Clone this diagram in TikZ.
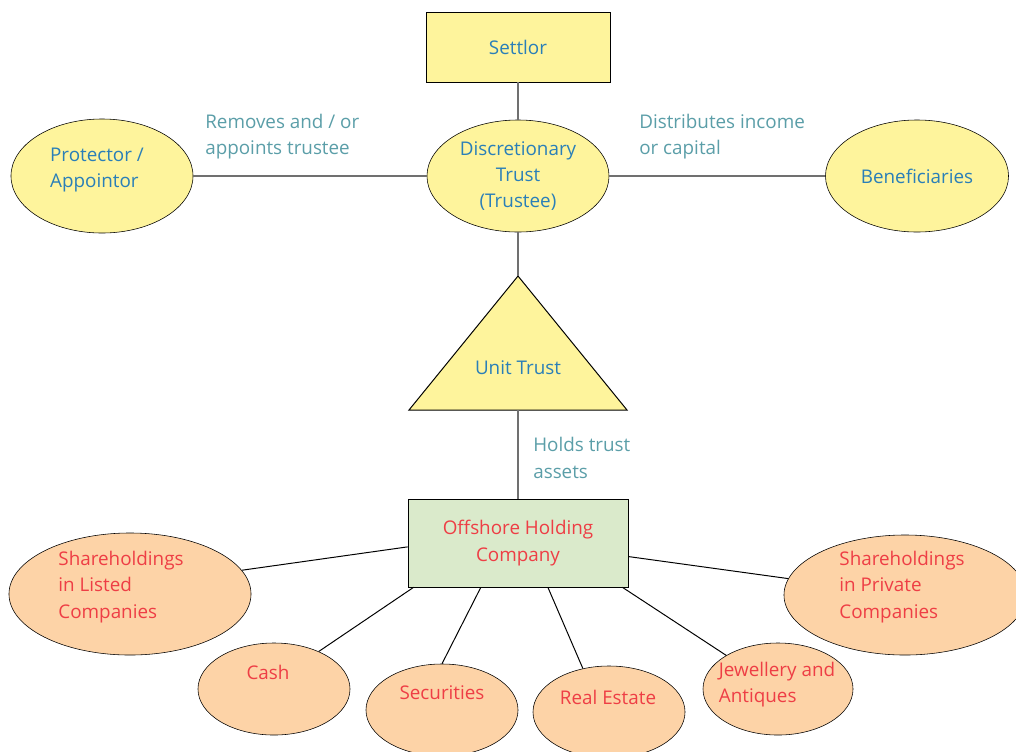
\documentclass[tikz,border=0pt]{standalone}
\usepackage{fontspec}
\setmainfont{Open Sans}
\usetikzlibrary{shapes.geometric}

\definecolor{trustyellow}{HTML}{FEF49C}
\definecolor{assetpeach}{HTML}{FDD3A7}
\definecolor{companygreen}{HTML}{DAEACB}
\definecolor{namblue}{HTML}{2A7FB8}
\definecolor{linkteal}{HTML}{5B9EA8}
\definecolor{assetred}{HTML}{EE3E45}
\definecolor{linkgray}{HTML}{707070}

\tikzset{
  lbl/.style={font=\fontsize{13.4}{18.6}\selectfont, inner sep=0pt},
  party/.style={lbl, draw, fill=trustyellow, text=namblue, align=center},
  asset/.style={draw, fill=assetpeach, ellipse, inner sep=0pt},
  assettxt/.style={lbl, text=assetred, align=left},
  linktxt/.style={lbl, text=linkteal, align=left, anchor=west},
  upper/.style={draw=linkgray, line width=0.9pt},
  lower/.style={draw=black, line width=0.7pt}
}

\begin{document}
\begin{tikzpicture}[x=0.025cm, y=-0.025cm]
    \useasboundingbox (0,0) rectangle (1016,751);

    % top part
    \node[party, minimum width=4.6cm, minimum height=1.75cm] (settlor) at (518,47) {Settlor};
    \node[party, ellipse, minimum width=4.55cm, minimum height=2.8cm] (trust) at (518,176)
        {Discretionary\\Trust\\(Trustee)};
    \node[party, ellipse, align=left, minimum width=4.55cm, minimum height=2.85cm] (protector)
        at (102,176) {};
    \node[lbl, text=namblue, align=left] (protxt) at (97,170) {Protector /\\Appointor};
    \node[party, ellipse, minimum width=4.575cm, minimum height=2.8cm] (benef) at (917,176)
        {Beneficiaries};

    \node[linktxt] (removes) at (205,137) {Removes and / or\\appoints trustee};
    \node[linktxt] (distrib) at (639,137) {Distributes income\\or capital};

    % unit trust
    \coordinate (apex) at (518,276);
    \coordinate (baser) at (627,410);
    \coordinate (basel) at (409,410);
    \coordinate (basemid) at (518,410);
    \draw[fill=trustyellow, line width=0.7pt] (apex) -- (baser) -- (basel) -- cycle;
    \node[lbl, text=namblue] (unit) at (518,368) {Unit Trust};

    \node[linktxt] (holds) at (533,458) {Holds trust\\assets};

    % holding company and assets
    \node[lbl, draw, fill=companygreen, text=assetred, align=center,
        minimum width=5.5cm, minimum height=2.2cm] (off) at (518,543)
        {Offshore Holding\\Company};

    \node[asset, minimum width=6.05cm, minimum height=3.05cm] (listed) at (130,594) {};
    \node[asset, minimum width=6.05cm, minimum height=3cm] (priv) at (905,595) {};
    \node[asset, minimum width=3.8cm, minimum height=2.3cm] (cash) at (274,689) {};
    \node[asset, minimum width=3.8cm, minimum height=2.3cm] (secur) at (442,710) {};
    \node[asset, minimum width=3.8cm, minimum height=2.3cm] (real) at (609,712) {};
    \node[asset, minimum width=3.75cm, minimum height=2.3cm] (jewel) at (778,689) {};

    \node[assettxt] (listedtxt) at (121,587) {Shareholdings\\in Listed\\Companies};
    \node[assettxt] (privtxt) at (902,587) {Shareholdings\\in Private\\Companies};
    \node[assettxt] (cashtxt) at (268,672) {Cash};
    \node[assettxt] (securtxt) at (442,693) {Securities};
    \node[assettxt] (realtxt) at (608,697) {Real Estate};
    \node[assettxt] (jeweltxt) at (777,685) {Jewellery and\\Antiques};

    \draw[upper] (settlor) -- (trust);
    \draw[upper] (protector) -- (trust) -- (benef);
    \draw[upper] (trust) -- (apex);
    \draw[upper] (basemid) -- (off);

    \draw[lower] (off.182) -- (listed.12);
    \draw[lower] (off.203) -- (cash.40);
    \draw[lower] (off.230) -- (secur.north);
    \draw[lower] (off.-56) -- (real.121);
    \draw[lower] (off.-23) -- (jewel.147);
    \draw[lower] (off.-7) -- (priv.172);
  \end{tikzpicture}
\end{document}
